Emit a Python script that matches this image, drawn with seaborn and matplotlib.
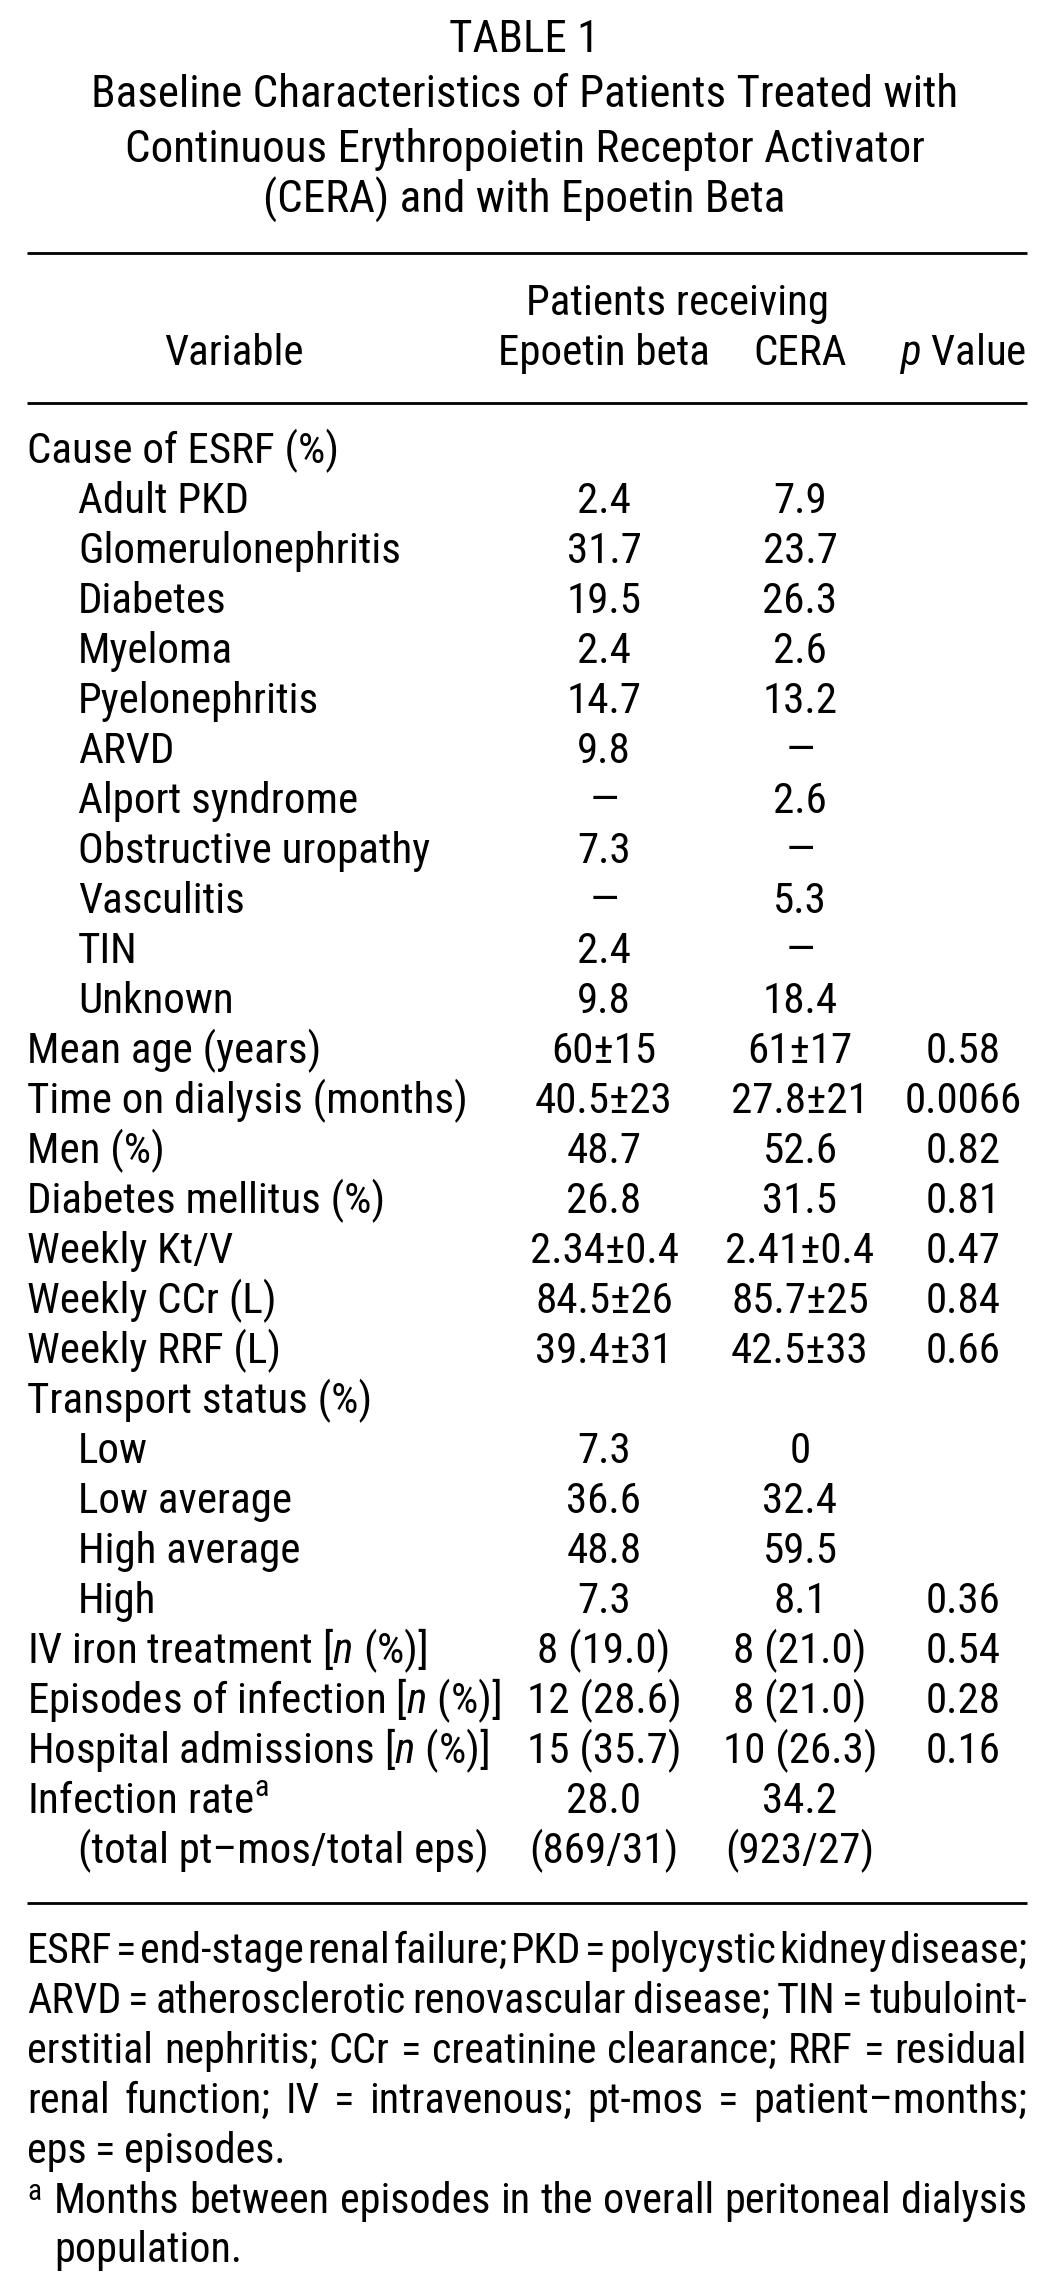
import matplotlib
matplotlib.use("Agg")
import matplotlib.pyplot as plt
from matplotlib import font_manager
import seaborn as sns

# ---- table content -------------------------------------------------------
TITLE_LINES = [
    "TABLE 1",
    "Baseline Characteristics of Patients Treated with",
    "Continuous Erythropoietin Receptor Activator",
    "(CERA) and with Epoetin Beta",
]
GROUP_HEADER = "Patients receiving"
COLUMN_HEADERS = ["Variable", "Epoetin beta", "CERA", r"$\mathit{p}$ Value"]

ROW_LABELS = [
    "Cause of ESRF (%)", "Adult PKD", "Glomerulonephritis", "Diabetes", "Myeloma",
    "Pyelonephritis", "ARVD", "Alport syndrome", "Obstructive uropathy", "Vasculitis",
    "TIN", "Unknown", "Mean age (years)", "Time on dialysis (months)", "Men (%)",
    "Diabetes mellitus (%)", "Weekly Kt/V", "Weekly CCr (L)", "Weekly RRF (L)",
    "Transport status (%)", "Low", "Low average", "High average", "High",
    r"IV iron treatment [$\mathit{n}$ (%)]",
    r"Episodes of infection [$\mathit{n}$ (%)]",
    r"Hospital admissions [$\mathit{n}$ (%)]",
    r"Infection rate$^{\mathrm{a}}$",
    "(total pt\u2013mos/total eps)",
]
ROW_INDENT = [0, 1, 1, 1, 1, 1, 1, 1, 1, 1, 1, 1, 0, 0, 0, 0, 0, 0, 0, 0,
              1, 1, 1, 1, 0, 0, 0, 0, 1]
EPOETIN = ["", "2.4", "31.7", "19.5", "2.4", "14.7", "9.8", "\u2014", "7.3", "\u2014",
           "2.4", "9.8", "60\u00b115", "40.5\u00b123", "48.7", "26.8", "2.34\u00b10.4",
           "84.5\u00b126", "39.4\u00b131", "", "7.3", "36.6", "48.8", "7.3",
           "8 (19.0)", "12 (28.6)", "15 (35.7)", "28.0", "(869/31)"]
CERA = ["", "7.9", "23.7", "26.3", "2.6", "13.2", "\u2014", "2.6", "\u2014", "5.3",
        "\u2014", "18.4", "61\u00b117", "27.8\u00b121", "52.6", "31.5", "2.41\u00b10.4",
        "85.7\u00b125", "42.5\u00b133", "", "0", "32.4", "59.5", "8.1",
        "8 (21.0)", "8 (21.0)", "10 (26.3)", "34.2", "(923/27)"]
P_VALUES = ["", "", "", "", "", "", "", "", "", "", "", "", "0.58", "0.0066", "0.82",
            "0.81", "0.47", "0.84", "0.66", "", "", "", "", "0.36", "0.54", "0.28",
            "0.16", "", ""]

FOOTNOTES = [
    "ESRF = end-stage renal failure; PKD = polycystic kidney disease;",
    "ARVD = atherosclerotic renovascular disease; TIN = tubuloint-",
    "erstitial nephritis; CCr = creatinine clearance; RRF = residual",
    "renal function; IV = intravenous; pt-mos = patient\u2013months;",
    "eps = episodes.",
]
FOOTNOTE_A = ["Months between episodes in the overall peritoneal dialysis", "population."]

# ---- layout (pixels) ------------------------------------------------------
W, H = 1049, 2292
LEFT, RIGHT = 27, 1027
COL_X = [604, 800, 963]
INDENT = 51
NOTE_INDENT = 54


def pick_font():
    entries = font_manager.fontManager.ttflist
    names = {f.name for f in entries}
    for cand in ["Liberation Sans Narrow", "Roboto Condensed", "Open Sans Condensed"]:
        if cand in names:
            return cand, "normal"
    for f in entries:
        if f.name == "DejaVu Sans" and "condensed" in str(f.stretch):
            return "DejaVu Sans", "condensed"
    return "Liberation Sans", "normal"


def main():
    sns.set_theme(style="white")
    font, stretch = pick_font()
    plt.rcParams["font.family"] = [font, "DejaVu Sans"]
    plt.rcParams["font.stretch"] = stretch
    plt.rcParams["mathtext.fontset"] = "custom"
    plt.rcParams["mathtext.rm"] = font
    plt.rcParams["mathtext.it"] = font + ":italic"

    fig = plt.figure(figsize=(W / 100, H / 100), dpi=100)
    ax = fig.add_axes([0, 0, 1, 1])
    ax.set_xlim(0, W)
    ax.set_ylim(H, 0)
    ax.axis("off")
    renderer = fig.canvas.get_renderer()

    def width(s, size):
        t = ax.text(0, 0, s, fontsize=size)
        w = t.get_window_extent(renderer).width
        t.remove()
        return w

    fs = 20 * 865 / width(TITLE_LINES[1], 20)
    body_fs = fs * 0.955
    kw = dict(color="black", va="baseline")

    # title
    for s, y in zip(TITLE_LINES, [52, 107, 162, 213]):
        ax.text(W / 2, y, s, ha="center", fontsize=fs, **kw)

    # rules
    ax.hlines([253, 403, 1903], LEFT, RIGHT, color="black", lw=2)

    # header
    ax.text(677, 315, GROUP_HEADER, ha="center", fontsize=body_fs, **kw)
    ax.text(234, 365, COLUMN_HEADERS[0], ha="center", fontsize=body_fs, **kw)
    for x, s in zip(COL_X, COLUMN_HEADERS[1:]):
        ax.text(x, 365, s, ha="center", fontsize=body_fs, **kw)

    # body
    for i, label in enumerate(ROW_LABELS):
        y = 463 + 50 * i
        ax.text(LEFT + INDENT * ROW_INDENT[i], y, label, ha="left", fontsize=body_fs, **kw)
        for x, col in zip(COL_X, [EPOETIN, CERA, P_VALUES]):
            if col[i]:
                ax.text(x, y, col[i], ha="center", fontsize=body_fs, **kw)

    # footnotes: pick a size so every justified line keeps a small word gap
    just_lines = [(l, RIGHT - LEFT) for l in FOOTNOTES[:-1]] + [(FOOTNOTE_A[0], RIGHT - NOTE_INDENT)]
    note_fs = body_fs
    for line, span in just_lines:
        words = line.split(" ")
        need = sum(width(w, 20) for w in words) + (len(words) - 1) * 20 * 0.12
        note_fs = min(note_fs, 20 * span / need)

    def justified(line, x0, x1, y, justify=True):
        words = line.split(" ")
        ws = [width(w, note_fs) for w in words]
        if justify and len(words) > 1:
            gap = (x1 - x0 - sum(ws)) / (len(words) - 1)
        else:
            gap = note_fs * 0.28
        x = x0
        for w, wd in zip(words, ws):
            ax.text(x, y, w, ha="left", fontsize=note_fs, **kw)
            x += wd + gap

    for i, line in enumerate(FOOTNOTES):
        justified(line, LEFT, RIGHT, 1963 + 50 * i, justify=i < len(FOOTNOTES) - 1)
    ax.text(LEFT, 2200, "a", ha="left", fontsize=note_fs * 0.7, **kw)
    justified(FOOTNOTE_A[0], NOTE_INDENT, RIGHT, 2213)
    justified(FOOTNOTE_A[1], NOTE_INDENT, RIGHT, 2262, justify=False)

    fig.savefig("out.png", dpi=100, facecolor="white")
    plt.close(fig)


if __name__ == "__main__":
    main()
